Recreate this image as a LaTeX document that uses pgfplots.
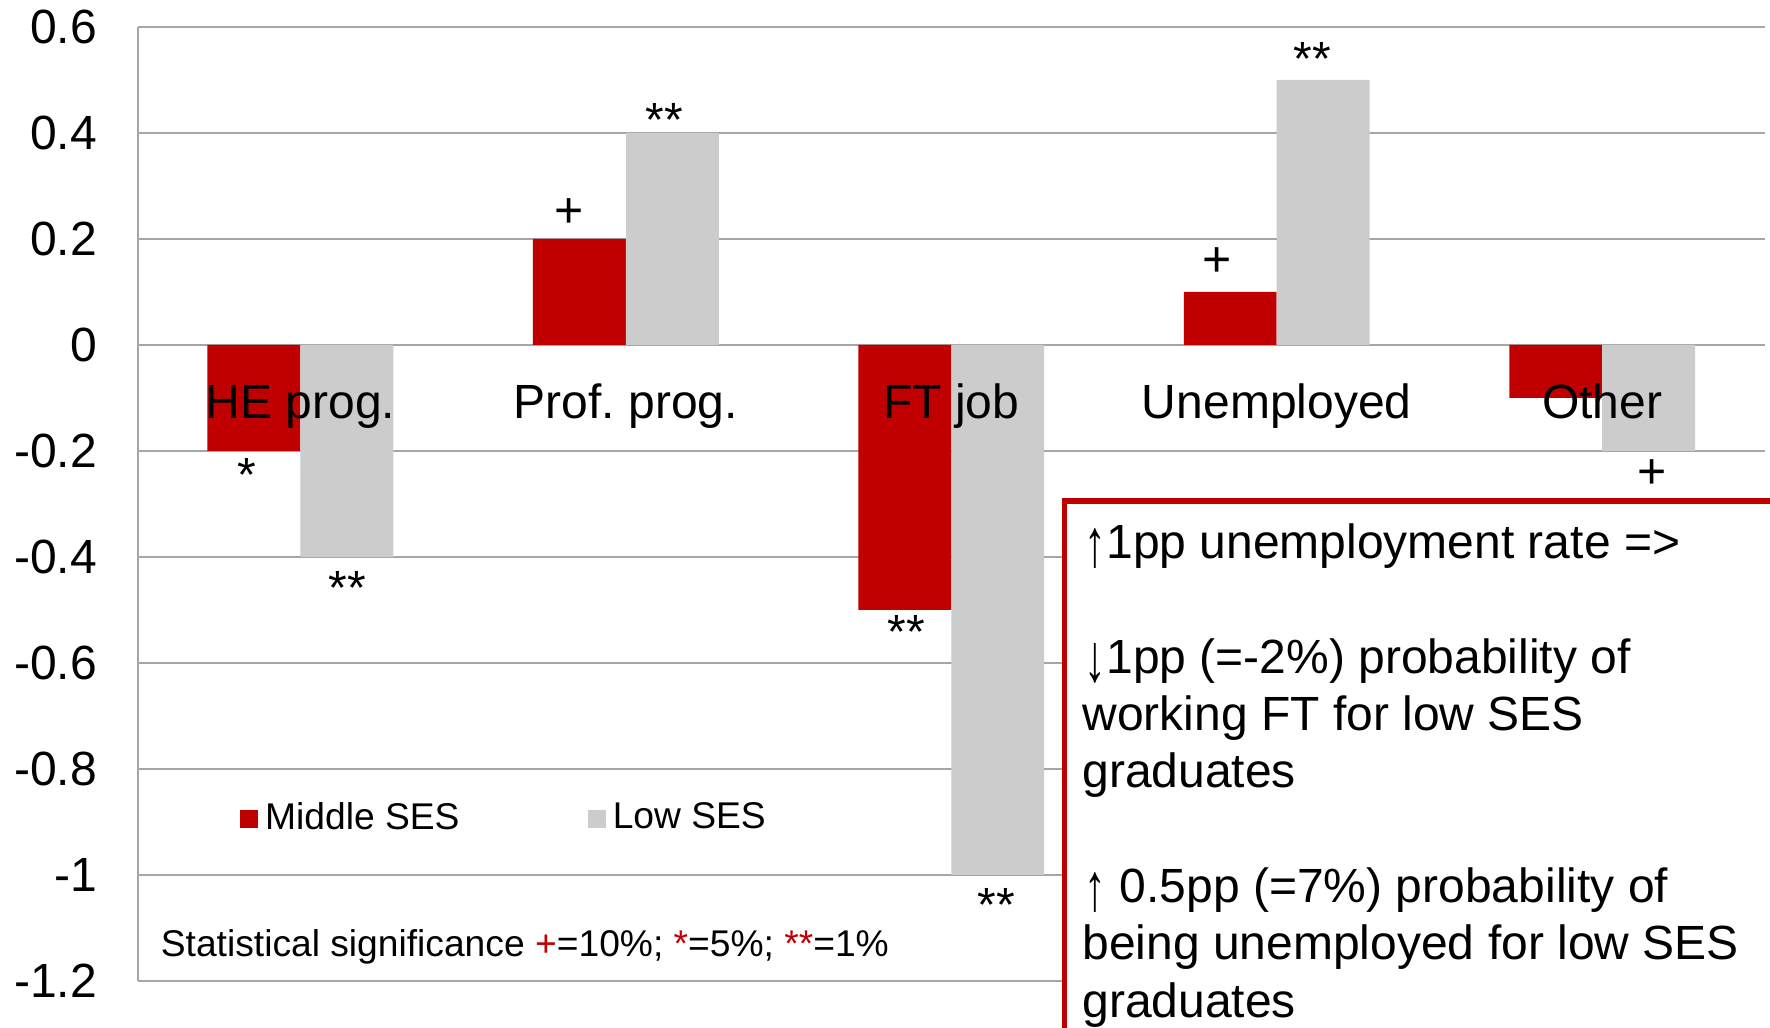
\documentclass[border=0pt]{standalone}
\usepackage{pgfplots}
\pgfplotsset{compat=1.18}
\usepackage{graphicx}
\usepackage{fontspec}
\setmainfont{Liberation Sans}
\definecolor{mred}{HTML}{C00000}
\definecolor{mgray}{HTML}{CCCCCC}
\definecolor{gridc}{HTML}{A6A6A6}
\newcommand\arr[1]{\raisebox{-2.5pt}{\resizebox*{5.4pt}{10pt}{\raisebox{\depth}{#1}}}}
\frenchspacing

\begin{document}
\begin{tikzpicture}
\useasboundingbox (-34.425pt,-11.75pt) rectangle (408.075pt,245.25pt);
\clip (-34.425pt,-11.75pt) rectangle (408.075pt,245.25pt);
\begin{axis}[
  at={(0pt,0pt)}, anchor=south west,
  scale only axis, width=406.8pt, height=238.5pt,
  xmin=-0.5, xmax=4.5, ymin=-1.2, ymax=0.6,
  ytick={-1.2,-1,-0.8,-0.6,-0.4,-0.2,0,0.2,0.4,0.6},
  yticklabels={-1.2,-1,-0.8,-0.6,-0.4,-0.2,0,0.2,0.4,0.6},
  yticklabel style={font=\fontsize{12}{14}\selectfont, anchor=east, inner sep=0pt, xshift=-10pt},
  xtick=\empty,
  extra x ticks={-0.5}, extra x tick labels={},
  extra x tick style={grid=major},
  ymajorgrids, grid style={gridc, line width=0.5pt},
  major grid style={gridc, line width=0.5pt},
  axis line style={draw=none},
  major tick length=0pt,
  clip=false,
  legend columns=2,
  legend cell align=left,
  legend image code/.code={\path[#1,draw=none] (0pt,-2.25pt) rectangle (4.5pt,2.25pt);},
  legend style={at={(0.0629,0.1698)}, anchor=west, draw=none, fill=none,
    inner sep=0pt, outer sep=0pt, font=\fontsize{9.3}{11}\selectfont,
    nodes={inner sep=0pt},
    /tikz/every odd column/.append style={column sep=1.8pt},
    /tikz/every even column/.append style={column sep=32pt}},
]
\addplot[ybar, bar width=23.23pt, bar shift=-11.615pt, fill=mred, draw=none]
  coordinates {(0,-0.2) (1,0.2) (2,-0.5) (3,0.1) (4,-0.1)};
\addlegendentry{Middle SES}
\addplot[ybar, bar width=23.23pt, bar shift=11.615pt, fill=mgray, draw=none]
  coordinates {(0,-0.4) (1,0.4) (2,-1.0) (3,0.5) (4,-0.2)};
\addlegendentry{Low SES}

% category labels
\addplot[draw=none, mark=none, forget plot, nodes near coords, point meta=explicit symbolic,
  nodes near coords style={anchor=base, inner sep=0pt, font=\fontsize{12}{14}\selectfont, text=black}]
  coordinates {(0,-0.138) [HE prog.] (1,-0.138) [Prof. prog.] (2,-0.138) [FT job] (3,-0.138) [Unemployed] (4,-0.138) [Other]};

% asterisk significance markers
\addplot[draw=none, mark=none, forget plot, nodes near coords, point meta=explicit symbolic,
  nodes near coords style={anchor=base, inner sep=0pt, yshift=-6.9pt, font=\fontsize{12}{14}\selectfont, text=black}]
  coordinates {(-0.165,-0.225) [*] (0.144,-0.438) [**] (1.118,0.4457) [**] (1.861,-0.5212) [**] (2.139,-1.036) [**] (3.109,0.5605) [**]};

% plus significance markers
\addplot[draw=none, mark=none, forget plot, nodes near coords, point meta=explicit symbolic,
  nodes near coords style={anchor=base, inner sep=0pt, yshift=-4.2pt, font=\fontsize{12.5}{14}\selectfont, text=black}]
  coordinates {(0.827,0.254) [+] (2.818,0.161) [+] (4.153,-0.2395) [+]};

\node[anchor=base west, inner sep=0pt, font=\fontsize{9.3}{11}\selectfont]
  at ([xshift=5.6pt,yshift=6.1pt]rel axis cs:0,0)
  {Statistical significance {\color{mred}+}=10\%; {\color{mred}*}=5\%; {\color{mred}**}=1\%};
\end{axis}

\draw[mred, line width=1.4pt, fill=white] (231.7pt,120pt) rectangle (440pt,-40pt);
\begin{scope}[every node/.style={anchor=base west, inner sep=0pt, font=\fontsize{12}{14}\selectfont}]
\node at (236.6pt,105.5pt) {\arr{↑}1pp unemployment rate =>};
\node at (236.6pt,76.75pt) {\arr{↓}1pp (=-2\%) probability of};
\node at (236pt,62.5pt) {working FT for low SES};
\node at (236pt,48.25pt) {graduates};
\node at (236.6pt,19.5pt) {\arr{↑} 0.5pp (=7\%) probability of};
\node at (236pt,5.25pt) {being unemployed for low SES};
\node at (236pt,-9.25pt) {graduates};
\end{scope}
\end{tikzpicture}
\end{document}
